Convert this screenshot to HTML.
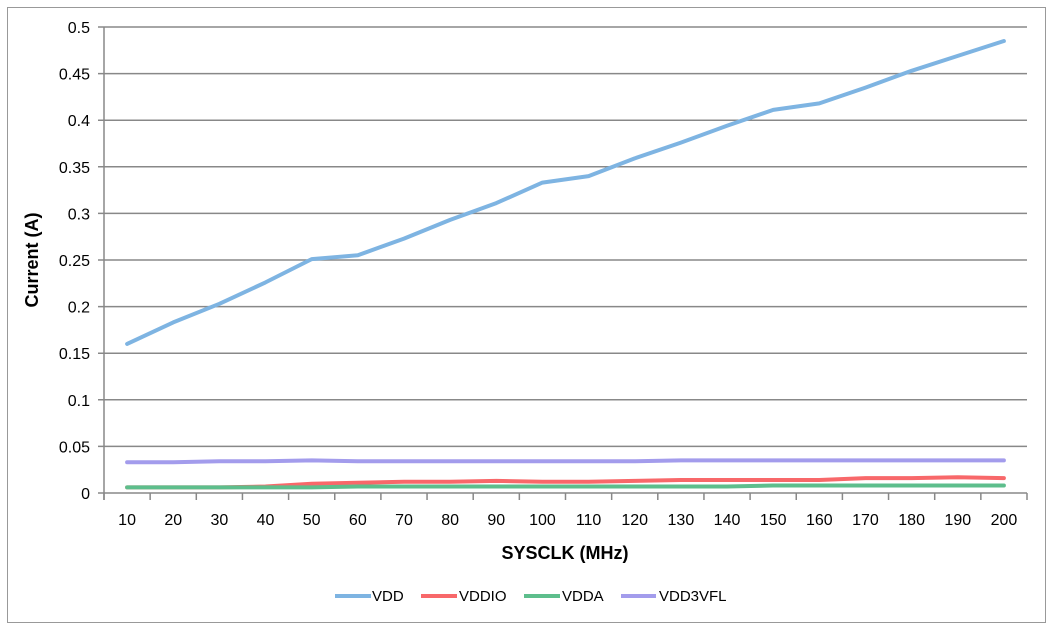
<!DOCTYPE html>
<html><head><meta charset="utf-8"><style>
body{margin:0;background:#fff;}
svg{display:block;font-family:"Liberation Sans",sans-serif;}
</style></head><body>
<svg id="s" width="1055" height="632" xmlns="http://www.w3.org/2000/svg">
<rect x="7.5" y="7.5" width="1038" height="615" fill="#fff" stroke="#999" stroke-width="1"/>
<g id="grid" stroke="#888" stroke-width="1.5"></g>
<g id="lbl" font-size="16" fill="#000"></g>
<text x="38" y="260" font-size="18" font-weight="bold" text-anchor="middle" transform="rotate(-90 38 260)">Current (A)</text>
<text x="565" y="559" font-size="18" font-weight="bold" text-anchor="middle">SYSCLK (MHz)</text>
<g id="series" fill="none" stroke-width="4" stroke-linejoin="round" stroke-linecap="round"></g>
<g font-size="15">
<line x1="335" y1="596" x2="371" y2="596" stroke="#7EB4E2" stroke-width="4"/><text x="372" y="601">VDD</text>
<line x1="421" y1="596" x2="457" y2="596" stroke="#F8686A" stroke-width="4"/><text x="459" y="601">VDDIO</text>
<line x1="524" y1="596" x2="560" y2="596" stroke="#5DBE8C" stroke-width="4"/><text x="562" y="601">VDDA</text>
<line x1="621" y1="596" x2="656" y2="596" stroke="#A39CEC" stroke-width="4"/><text x="659" y="601">VDD3VFL</text>
</g>
</svg>
<script>
var NS="http://www.w3.org/2000/svg";
function el(p,t,a,txt){var e=document.createElementNS(NS,t);for(var k in a)e.setAttribute(k,a[k]);if(txt!=null)e.textContent=txt;p.appendChild(e);return e;}
var g=document.getElementById('grid'),l=document.getElementById('lbl'),s=document.getElementById('series');
var X0=104,X1=1027,Y0=493,Y1=27,W=(X1-X0)/20;
function y(v){return Y0-(v/0.5)*(Y0-Y1);}
for(var i=0;i<=10;i++){var v=i*0.05,yy=y(v);el(g,'line',{x1:X0-6,y1:yy,x2:X1,y2:yy});
var t=(Math.round(v*100)/100).toString();el(l,'text',{x:X0-14,y:yy+6,'text-anchor':'end'},t);}
el(g,'line',{x1:X0,y1:Y1,x2:X0,y2:Y0+7});
for(var i=0;i<=20;i++){var xx=X0+i*W;el(g,'line',{x1:xx,y1:Y0,x2:xx,y2:Y0+7});
if(i<20)el(l,'text',{x:xx+W/2,y:Y0+32,'text-anchor':'middle'},String((i+1)*10));}
var D={
"#7EB4E2":[0.160,0.183,0.203,0.226,0.251,0.255,0.273,0.293,0.311,0.333,0.340,0.359,0.376,0.394,0.411,0.418,0.435,0.453,0.469,0.485],
"#A39CEC":[0.033,0.033,0.034,0.034,0.035,0.034,0.034,0.034,0.034,0.034,0.034,0.034,0.035,0.035,0.035,0.035,0.035,0.035,0.035,0.035],
"#F8686A":[0.006,0.006,0.006,0.007,0.010,0.011,0.012,0.012,0.013,0.012,0.012,0.013,0.014,0.014,0.014,0.014,0.016,0.016,0.017,0.016],
"#5DBE8C":[0.006,0.006,0.006,0.006,0.006,0.007,0.007,0.007,0.007,0.007,0.007,0.007,0.007,0.007,0.008,0.008,0.008,0.008,0.008,0.008]};
for(var c in D){var p=D[c].map(function(v,i){return (X0+W*(i+0.5)).toFixed(1)+","+y(v).toFixed(1);}).join(" ");
el(s,'polyline',{points:p,stroke:c});}
</script>
</body></html>
